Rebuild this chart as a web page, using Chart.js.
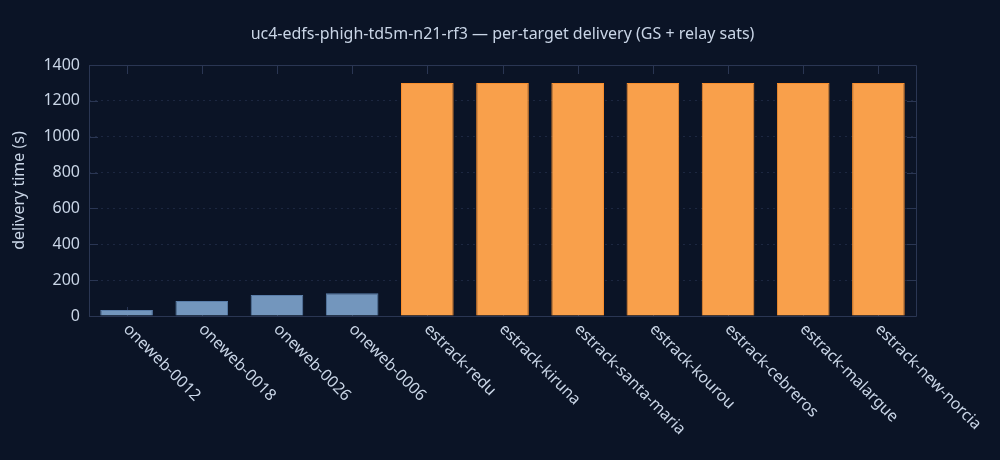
<!DOCTYPE html>
<html lang="en">

<head>
    <meta charset="UTF-8">
    <title>Per-target delivery</title>
    <script src="https://cdn.jsdelivr.net/npm/chart.js"></script>
    <style>
        html, body {
            margin: 0;
            padding: 0;
            background: #0b1426;
        }
        .chart-container {
            width: 1000px;
            height: 460px;
        }
    </style>
</head>

<body>
    <div class="chart-container">
        <canvas id="deliveryChart"></canvas>
    </div>

    <script>
        const chartTitle = 'uc4-edfs-phigh-td5m-n21-rf3 — per-target delivery (GS + relay sats)';
        const targets = ['oneweb-0012', 'oneweb-0018', 'oneweb-0026', 'oneweb-0006', 'estrack-redu',
            'estrack-kiruna', 'estrack-santa-maria', 'estrack-kourou', 'estrack-cebreros',
            'estrack-malargue', 'estrack-new-norcia'];
        const deliverySeconds = [33, 84, 117, 127, 1300, 1300, 1300, 1300, 1300, 1300, 1300];
        const yTicks = [0, 200, 400, 600, 800, 1000, 1200, 1400];

        const textColor = '#c9d5e6';
        const frameColor = '#2a3653';
        const fontFamily = '"Noto Sans", "Open Sans", sans-serif';

        // relay sats blue, ground stations orange
        const fills = targets.map(t => t.startsWith('oneweb') ? '#7396bd' : '#f9a04b');
        const borders = targets.map(t => t.startsWith('oneweb') ? '#5a7eaa' : '#f98f2e');

        // frame + mirrored inside ticks, drawn under the bars
        const framePlugin = {
            id: 'frame',
            beforeDatasetsDraw(chart) {
                const { ctx, chartArea: a, scales } = chart;
                ctx.save();
                ctx.strokeStyle = frameColor;
                ctx.lineWidth = 1;
                ctx.beginPath();
                ctx.rect(a.left + 0.5, a.top + 0.5, a.right - a.left, a.bottom - a.top);
                scales.x.ticks.forEach((t, i) => {
                    const x = Math.round(scales.x.getPixelForTick(i)) + 0.5;
                    ctx.moveTo(x, a.top);
                    ctx.lineTo(x, a.top + 9);
                    ctx.moveTo(x, a.bottom);
                    ctx.lineTo(x, a.bottom - 9);
                });
                yTicks.forEach(v => {
                    const y = Math.round(scales.y.getPixelForValue(v)) + 0.5;
                    ctx.moveTo(a.left, y);
                    ctx.lineTo(a.left + 9, y);
                    ctx.moveTo(a.right, y);
                    ctx.lineTo(a.right - 9, y);
                });
                ctx.stroke();
                ctx.restore();
            },
            afterDraw(chart) {
                const { ctx, chartArea: a, scales } = chart;
                ctx.save();
                ctx.fillStyle = textColor;
                // title centred over the plot area
                ctx.font = '16px ' + fontFamily;
                ctx.textAlign = 'center';
                ctx.textBaseline = 'middle';
                ctx.fillText(chartTitle, (a.left + a.right) / 2, 34);
                // slanted category labels reading down-right from each tick
                ctx.font = '16px ' + fontFamily;
                ctx.textAlign = 'left';
                ctx.textBaseline = 'top';
                targets.forEach((label, i) => {
                    const x = scales.x.getPixelForTick(i);
                    ctx.save();
                    ctx.translate(x + 5, a.bottom + 5);
                    ctx.rotate(Math.PI / 4);
                    ctx.fillText(label, 0, 0);
                    ctx.restore();
                });
                ctx.restore();
            }
        };

        const ctx = document.getElementById('deliveryChart').getContext('2d');
        new Chart(ctx, {
            type: 'bar',
            data: {
                labels: targets,
                datasets: [{
                    label: 'delivery time (s)',
                    data: deliverySeconds,
                    backgroundColor: fills,
                    borderColor: borders,
                    borderWidth: 1,
                    barPercentage: 0.7,
                    categoryPercentage: 1.0
                }]
            },
            options: {
                responsive: true,
                maintainAspectRatio: false,
                devicePixelRatio: 1,
                animation: false,
                layout: {
                    padding: { left: 0, right: 84, top: 65, bottom: 0 }
                },
                scales: {
                    x: {
                        ticks: { display: false },
                        grid: { display: false, drawTicks: false },
                        border: { display: false },
                        afterFit: scale => { scale.height = 144; }
                    },
                    y: {
                        min: 0,
                        max: 1400,
                        afterBuildTicks: scale => {
                            scale.ticks = yTicks.map(v => ({ value: v }));
                        },
                        ticks: {
                            color: textColor,
                            padding: 9,
                            font: { family: fontFamily, size: 16 },
                            callback: v => String(v)
                        },
                        grid: {
                            color: '#1c2740',
                            drawTicks: false
                        },
                        border: { display: false, dash: [2, 4] },
                        title: {
                            display: true,
                            text: 'delivery time (s)',
                            color: textColor,
                            padding: { top: 10, bottom: 0 },
                            font: { family: fontFamily, size: 16 }
                        },
                        afterFit: scale => { scale.width = 89; }
                    }
                },
                plugins: {
                    legend: { display: false },
                    tooltip: { enabled: false }
                }
            },
            plugins: [framePlugin]
        });
    </script>
</body>

</html>
